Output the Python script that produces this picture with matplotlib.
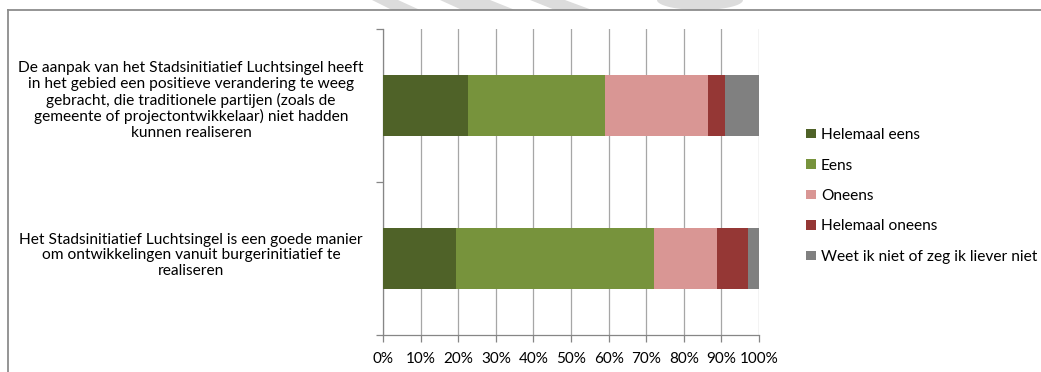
import matplotlib
matplotlib.use("Agg")
import matplotlib.pyplot as plt
from matplotlib.patches import Polygon
import matplotlib.transforms as mtransforms
import numpy as np

plt.rcParams['font.family'] = ['Lato', 'DejaVu Sans']

statements = [
    "De aanpak van het Stadsinitiatief Luchtsingel heeft\nin het gebied een positieve verandering te weeg\ngebracht, die traditionele partijen (zoals de\ngemeente of projectontwikkelaar) niet hadden\nkunnen realiseren",
    "Het Stadsinitiatief Luchtsingel is een goede manier\nom ontwikkelingen vanuit burgerinitiatief te\nrealiseren",
]
series_names = ["Helemaal eens", "Eens", "Oneens", "Helemaal oneens",
                "Weet ik niet of zeg ik liever niet"]
helemaal_eens = [22.7, 19.4]
eens = [36.4, 52.8]
oneens = [27.3, 16.7]
helemaal_oneens = [4.5, 8.3]
weet_niet = [9.1, 2.8]
series_values = [helemaal_eens, eens, oneens, helemaal_oneens, weet_niet]
colors = ["#4F6228", "#77933C", "#D99694", "#953735", "#808080"]
xticks = [0, 10, 20, 30, 40, 50, 60, 70, 80, 90, 100]
xticklabels = [f"{t}%" for t in xticks]

W, H = 1041, 372
fig = plt.figure(figsize=(W / 100, H / 100), dpi=100)

# faint watermark shapes at the top
wm = "#DCDCDC"
for poly in [
    [(372, 0), (398, 0), (420, 10), (392, 10)],
    [(440, 0), (490, 0), (515, 10), (462, 10)],
    [(530, 0), (565, 0), (592, 10), (555, 10)],
]:
    fig.patches.append(Polygon([(x / W, 1 - y / H) for x, y in poly],
                               closed=True, transform=fig.transFigure,
                               facecolor=wm, edgecolor="none", zorder=0))
arc_pts = [(655, 0)] + [(700 + 43 * np.cos(t), 10 * np.sin(t))
                        for t in np.linspace(np.pi, 0, 40)] + [(745, 0)]
fig.patches.append(Polygon([(x / W, 1 - y / H) for x, y in arc_pts],
                           closed=True, transform=fig.transFigure,
                           facecolor=wm, edgecolor="none", zorder=0))

# outer frame (left and top border)
fig.add_artist(plt.Line2D([8 / W, 8 / W], [0, 1 - 10 / H], transform=fig.transFigure,
                          color="#8C8C8C", lw=1.3))
fig.add_artist(plt.Line2D([8 / W, 1], [1 - 10 / H, 1 - 10 / H], transform=fig.transFigure,
                          color="#8C8C8C", lw=1.3))

ax = fig.add_axes([383 / W, (H - 335) / H, 376 / W, 306 / H])
ypos = list(range(len(statements)))
left = [0.0] * len(statements)
bars = []
for name, vals, col in zip(series_names, series_values, colors):
    b = ax.barh(ypos, vals, left=left, height=0.4, color=col, label=name,
                edgecolor="none", zorder=3)
    bars.append(b)
    left = [l + v for l, v in zip(left, vals)]

ax.set_xlim(0, 100)
ax.set_ylim(1.5, -0.5)
ax.set_xticks(xticks)
ax.set_xticklabels(xticklabels, fontsize=11)
ax.set_yticks([-0.5, 0.5, 1.5])
ax.set_yticklabels([])
ax.grid(axis="x", color="#A6A6A6", lw=0.9, zorder=0)
for s in ["top", "right"]:
    ax.spines[s].set_visible(False)
for s in ["left", "bottom"]:
    ax.spines[s].set_color("#868686")
    ax.spines[s].set_linewidth(0.9)
ax.tick_params(axis="both", color="#868686", length=5, width=0.9)
ax.tick_params(axis="x", labelcolor="black", pad=7)

trans = mtransforms.blended_transform_factory(fig.transFigure, ax.transData)
offsets_px = [5, 3]
for i, s in enumerate(statements):
    tr = trans + mtransforms.ScaledTranslation(0, offsets_px[i] / 100, fig.dpi_scale_trans)
    ax.text(191 / W, i, s, transform=tr, ha="center", va="center",
            fontsize=11.2, linespacing=1.16, multialignment="center")

leg = fig.legend(handles=bars, labels=series_names, loc="center left",
                 bbox_to_anchor=(800 / W, 1 - 196 / H), frameon=False,
                 fontsize=11.2, handlelength=0.6, handleheight=0.6,
                 handletextpad=0.35, labelspacing=1.06, borderaxespad=0)

fig.savefig("out.png", dpi=100)
